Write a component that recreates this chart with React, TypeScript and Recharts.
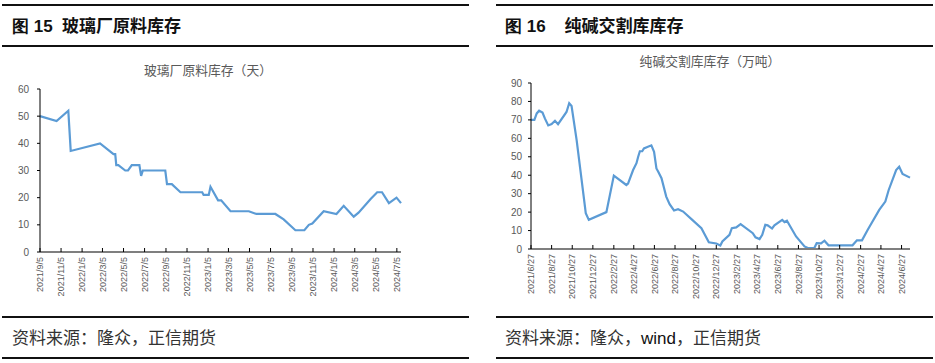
import { LineChart, Line, XAxis, YAxis } from 'recharts';

// 玻璃厂原料库存（天）
const glassDates = [
  '2021-09-05', '2021-10-23', '2021-11-26', '2021-12-03', '2022-02-26', '2022-04-06',
  '2022-04-11', '2022-04-14', '2022-04-20', '2022-05-10', '2022-05-18', '2022-05-29',
  '2022-06-20', '2022-06-25', '2022-06-30', '2022-09-03', '2022-09-08', '2022-09-22',
  '2022-10-17', '2022-12-19', '2022-12-23', '2023-01-07', '2023-01-12', '2023-02-03',
  '2023-02-12', '2023-03-11', '2023-05-03', '2023-05-25', '2023-07-19', '2023-08-12',
  '2023-09-15', '2023-10-11', '2023-10-24', '2023-11-03', '2023-12-06', '2024-01-12',
  '2024-02-02', '2024-03-02', '2024-03-16', '2024-04-20', '2024-05-09', '2024-05-23',
  '2024-06-12', '2024-07-04', '2024-07-17',
];
const glassValues = [
  50, 48.2, 52, 37.2, 40, 36,
  36, 32, 32, 30, 30, 32,
  32, 28, 30, 30, 25, 25,
  22, 22, 21, 21, 24, 19,
  19, 15, 15, 14, 14, 12,
  8, 8, 10, 10.5, 15, 14,
  17, 13, 14.5, 19.5, 22, 22,
  18, 20, 18,
];
const glassTicks = [
  '2021/9/5', '2021/11/5', '2022/1/5', '2022/3/5', '2022/5/5', '2022/7/5',
  '2022/9/5', '2022/11/5', '2023/1/5', '2023/3/5', '2023/5/5', '2023/7/5',
  '2023/9/5', '2023/11/5', '2024/1/5', '2024/3/5', '2024/5/5', '2024/7/5',
];

// 纯碱交割库库存（万吨）
const sodaDates = [
  '2021-06-27', '2021-07-07', '2021-07-14', '2021-07-21', '2021-07-31', '2021-08-07',
  '2021-08-17', '2021-08-27', '2021-09-06', '2021-09-15', '2021-10-10', '2021-10-18',
  '2021-10-25', '2021-11-09', '2021-12-06', '2021-12-15', '2022-02-05', '2022-02-27',
  '2022-04-05', '2022-04-10', '2022-04-25', '2022-05-05', '2022-05-10', '2022-05-15',
  '2022-05-22', '2022-05-27', '2022-06-18', '2022-06-26', '2022-07-03', '2022-07-08',
  '2022-07-18', '2022-08-01', '2022-08-11', '2022-08-24', '2022-09-05', '2022-09-20',
  '2022-10-17', '2022-11-13', '2022-12-05', '2022-12-27', '2023-01-08', '2023-01-14',
  '2023-02-04', '2023-02-11', '2023-02-24', '2023-03-09', '2023-04-14', '2023-04-22',
  '2023-05-04', '2023-05-12', '2023-05-21', '2023-05-28', '2023-06-10', '2023-06-17',
  '2023-07-10', '2023-07-17', '2023-07-24', '2023-08-20', '2023-09-14', '2023-09-24',
  '2023-10-13', '2023-10-20', '2023-11-02', '2023-11-12', '2023-11-24', '2024-02-03',
  '2024-02-16', '2024-03-02', '2024-03-19', '2024-04-22', '2024-05-10', '2024-05-20',
  '2024-06-11', '2024-06-20', '2024-06-30', '2024-07-22',
];
const sodaValues = [
  70, 70, 73.5, 75, 74, 70.8,
  67, 67.7, 69.5, 67.7, 74.3, 79,
  77.5, 59, 19.4, 15.8, 20, 39.8,
  34.7, 35.5, 42.8, 46.5, 50, 53,
  53, 54.5, 56.2, 52.7, 43.7, 42,
  38.4, 28.4, 24.3, 20.9, 21.6, 20.3,
  15.8, 11.3, 3.6, 3, 1.9, 4.1,
  7.7, 11.3, 11.7, 13.5, 8.6, 6.3,
  5.4, 7.7, 13.1, 12.8, 11.1, 12.8,
  15.8, 14.6, 15.3, 6.8, 1.4, 0.5,
  0.5, 3.2, 3, 4.5, 2, 2,
  4.7, 4.7, 10.4, 21.2, 25.7, 32,
  42.8, 44.6, 40.7, 38.7,
];
const sodaTicks = [
  '2021/6/27', '2021/8/27', '2021/10/27', '2021/12/27', '2022/2/27', '2022/4/27',
  '2022/6/27', '2022/8/27', '2022/10/27', '2022/12/27', '2023/2/27', '2023/4/27',
  '2023/6/27', '2023/8/27', '2023/10/27', '2023/12/27', '2024/2/27', '2024/4/27',
  '2024/6/27',
];

const LINE = '#5B9BD5';
const CJK = '"Noto Sans CJK SC", "Liberation Sans", sans-serif';

const toTime = (s: string) => {
  const [y, m, d] = s.split(/[-/]/).map(Number);
  return Date.UTC(y, m - 1, d);
};
const fmt = (t: number) => {
  const d = new Date(t);
  return `${d.getUTCFullYear()}/${d.getUTCMonth() + 1}/${d.getUTCDate()}`;
};

const glassData = glassDates.map((d, i) => ({ t: toTime(d), v: glassValues[i] }));
const sodaData = sodaDates.map((d, i) => ({ t: toTime(d), v: sodaValues[i] }));

function DateTick({ x, y, payload }: any) {
  return (
    <g>
      <line x1={x} y1={y - 4} x2={x} y2={y} stroke="#000" strokeWidth={1} />
      <text
        transform={`translate(${x},${y + 5}) rotate(-90)`}
        textAnchor="end"
        dy="0.35em"
        fontSize={9}
        fontFamily='"Liberation Sans", sans-serif'
        fill="#595959"
      >
        {fmt(payload.value)}
      </text>
    </g>
  );
}

const hr = (left: number, top: number, width: number) => (
  <div style={{ position: 'absolute', left, top, width, height: 1.5, background: '#111' }} />
);

export default function App() {
  return (
    <div
      style={{
        position: 'absolute',
        left: 0,
        top: 0,
        width: 935,
        height: 363,
        background: '#fff',
        fontFamily: CJK,
        overflow: 'hidden',
      }}
    >
      {/* left panel */}
      {hr(2, 4, 467)}
      <div
        style={{
          position: 'absolute', left: 12, top: 14, fontSize: 17, fontWeight: 'bold',
          color: '#111', whiteSpace: 'pre', lineHeight: '22px',
        }}
      >
        <span style={{ fontFamily: '"Liberation Sans", sans-serif' }}>图 15  </span>玻璃厂原料库存
      </div>
      {hr(2, 45, 467)}
      <div
        style={{
          position: 'absolute', left: 108, width: 200, top: 61, textAlign: 'center',
          fontSize: 12.8, color: '#595959', lineHeight: '18px',
        }}
      >
        玻璃厂原料库存（天）
      </div>
      <div style={{ position: 'absolute', left: 0, top: 80 }}>
        <LineChart width={470} height={230} data={glassData} margin={{ top: 9, right: 69, bottom: 0, left: 0 }}>
          <XAxis
            dataKey="t"
            type="number"
            domain={[toTime('2021-09-05'), toTime('2024-07-17')]}
            ticks={glassTicks.map(toTime)}
            interval={0}
            height={58}
            tickSize={0}
            tickMargin={0}
            tickLine={false}
            axisLine={{ stroke: '#7f7f7f', strokeWidth: 2 }}
            tick={<DateTick />}
          />
          <YAxis
            type="number"
            domain={[0, 60]}
            ticks={[0, 10, 20, 30, 40, 50, 60]}
            width={40}
            tickSize={3}
            tickMargin={8}
            axisLine={{ stroke: '#000' }}
            tickLine={{ stroke: '#000' }}
            tick={{ fontSize: 10, fill: '#595959', fontFamily: '"Liberation Sans", sans-serif' }}
          />
          <Line type="linear" dataKey="v" stroke={LINE} strokeWidth={2.2} dot={false} isAnimationActive={false} />
        </LineChart>
      </div>
      {hr(2, 316, 467)}
      <div
        style={{
          position: 'absolute', left: 12, top: 326, fontSize: 17, color: '#333', lineHeight: '22px',
        }}
      >
        资料来源：隆众，正信期货
      </div>
      {hr(2, 357, 467)}

      {/* right panel */}
      {hr(496, 4, 437)}
      <div
        style={{
          position: 'absolute', left: 505, top: 14, fontSize: 17, fontWeight: 'bold',
          color: '#111', whiteSpace: 'pre', lineHeight: '22px',
        }}
      >
        <span style={{ fontFamily: '"Liberation Sans", sans-serif' }}>图 16    </span>纯碱交割库库存
      </div>
      {hr(496, 45, 437)}
      <div
        style={{
          position: 'absolute', left: 610, width: 200, top: 52, textAlign: 'center',
          fontSize: 12.8, color: '#595959', lineHeight: '18px',
        }}
      >
        纯碱交割库库存（万吨）
      </div>
      <div style={{ position: 'absolute', left: 470, top: 70 }}>
        <LineChart width={465} height={240} data={sodaData} margin={{ top: 13, right: 25, bottom: 0, left: 0 }}>
          <XAxis
            dataKey="t"
            type="number"
            domain={[toTime('2021-06-27'), toTime('2024-07-22')]}
            ticks={sodaTicks.map(toTime)}
            interval={0}
            height={61}
            tickSize={0}
            tickMargin={0}
            tickLine={false}
            axisLine={{ stroke: '#7f7f7f', strokeWidth: 2 }}
            tick={<DateTick />}
          />
          <YAxis
            type="number"
            domain={[0, 90]}
            ticks={[0, 10, 20, 30, 40, 50, 60, 70, 80, 90]}
            width={61}
            tickSize={3}
            tickMargin={6}
            axisLine={{ stroke: '#000' }}
            tickLine={{ stroke: '#000' }}
            tick={{ fontSize: 10, fill: '#595959', fontFamily: '"Liberation Sans", sans-serif' }}
          />
          <Line type="linear" dataKey="v" stroke={LINE} strokeWidth={2.2} dot={false} isAnimationActive={false} />
        </LineChart>
      </div>
      {hr(496, 316, 437)}
      <div
        style={{
          position: 'absolute', left: 505, top: 326, fontSize: 17, color: '#333', lineHeight: '22px',
        }}
      >
        资料来源：隆众，<span style={{ fontFamily: '"Liberation Sans", sans-serif', color: '#111' }}>wind</span>，正信期货
      </div>
      {hr(496, 357, 437)}
    </div>
  );
}
